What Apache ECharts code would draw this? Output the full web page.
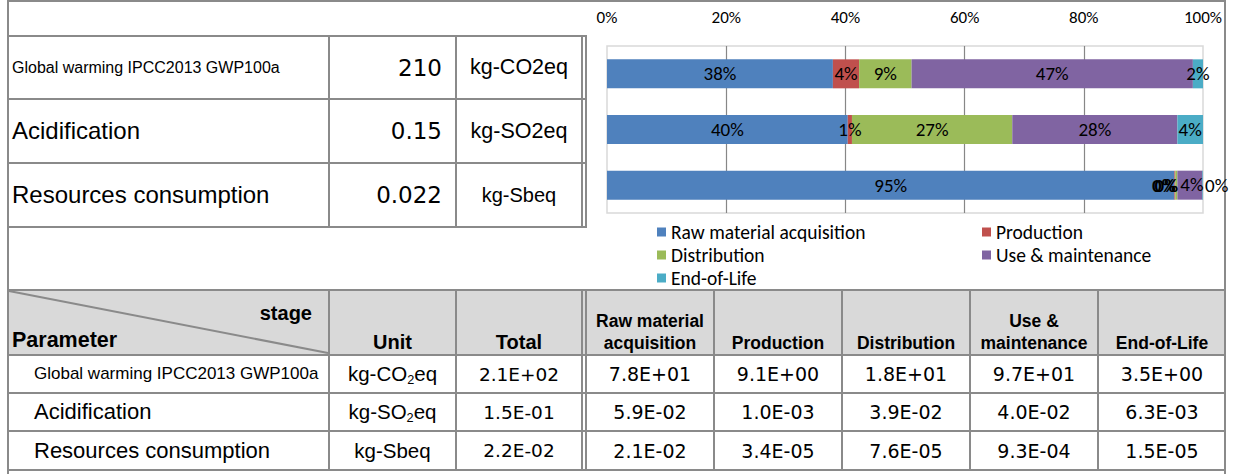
<!DOCTYPE html>
<html>
<head>
<meta charset="utf-8">
<script src="https://cdn.jsdelivr.net/npm/echarts@6/dist/echarts.min.js"></script>
<style>
  html, body { margin: 0; padding: 0; background: #fff; }
  #page { position: relative; width: 1235px; height: 474px; overflow: hidden; font-family: "Liberation Sans", Arial, sans-serif; color: #000; }
  .ln { position: absolute; background: #8a8a8a; }
  .cell { position: absolute; display: flex; align-items: center; white-space: nowrap; }
  .c { justify-content: center; text-align: center; }
  .r { justify-content: flex-end; }
  .num { font-family: "DejaVu Sans", Verdana, sans-serif; }
  .b { font-weight: bold; }
  sub { font-size: 0.62em; vertical-align: -0.25em; line-height: 0; }
  #chart { position: absolute; left: 0; top: 0; width: 1235px; height: 474px; }
</style>
</head>
<body>
<div id="page">
  <div id="hdrbg" style="position:absolute;left:9px;top:291px;width:1215px;height:63px;background:#d9d9d9;"></div>
  <svg style="position:absolute;left:0;top:0;" width="1235" height="474">
    <line x1="9" y1="291" x2="328" y2="353" stroke="#8a8a8a" stroke-width="2"/>
  </svg>
  <div id="lines"></div>
  <div id="cells"></div>
  <div id="chart"></div>
</div>
<script>
// ---- data ----
const parameters = ['Global warming IPCC2013 GWP100a', 'Acidification', 'Resources consumption'];
const unitsPlain = ['kg-CO2eq', 'kg-SO2eq', 'kg-Sbeq'];
const unitsSub = ['kg-CO<sub>2</sub>eq', 'kg-SO<sub>2</sub>eq', 'kg-Sbeq'];
const totalsShort = ['210', '0.15', '0.022'];
const totals = [2.1e2, 1.5e-1, 2.2e-2];
const stages = ['Raw material acquisition', 'Production', 'Distribution', 'Use & maintenance', 'End-of-Life'];
const stageHeaders = ['Raw material<br>acquisition', 'Production', 'Distribution', 'Use &amp;<br>maintenance', 'End-of-Life'];
const rawMaterial = [7.8e1, 5.9e-2, 2.1e-2];
const production = [9.1e0, 1.0e-3, 3.4e-5];
const distribution = [1.8e1, 3.9e-2, 7.6e-5];
const useMaintenance = [9.7e1, 4.0e-2, 9.3e-4];
const endOfLife = [3.5e0, 6.3e-3, 1.5e-5];
// shares in %
const rawPct = [37.9, 40.4, 95.2];
const prodPct = [4.4, 0.7, 0.15];
const distPct = [8.8, 26.9, 0.35];
const usePct = [47.2, 27.7, 4.2];
const eolPct = [1.7, 4.3, 0.1];
const axisTicks = [0, 20, 40, 60, 80, 100];

// ---- table ----
function fmt(v) {
  const s = v.toExponential(1).split('e');
  const sign = s[1][0] === '-' ? '-' : '+';
  let e = s[1].replace('+', '').replace('-', '');
  if (e.length < 2) e = '0' + e;
  return s[0] + 'E' + sign + e;
}
const linesEl = document.getElementById('lines');
function hl(x1, x2, y, t) { const d = document.createElement('div'); d.className = 'ln'; d.style.cssText = `left:${x1}px;top:${y}px;width:${x2 - x1}px;height:${t || 2}px;`; linesEl.appendChild(d); }
function vl(x, y1, y2, t) { const d = document.createElement('div'); d.className = 'ln'; d.style.cssText = `left:${x}px;top:${y1}px;width:${t || 2}px;height:${y2 - y1}px;`; linesEl.appendChild(d); }
// outer
hl(7, 1226, 0, 2); vl(7, 0, 474, 2); vl(1224, 0, 474, 2);
// top table
[35, 98, 162, 226].forEach(y => hl(7, 587, y, 2));
vl(328, 35, 228, 2); vl(455, 35, 228, 2); vl(581, 35, 228, 1.5); vl(585, 35, 228, 1.5);
// bottom table
hl(7, 1226, 289, 2);
[354, 392, 430, 469].forEach(y => hl(7, 1226, y, 2));
vl(328, 289, 471, 2); vl(455, 289, 471, 2); vl(581, 289, 471, 1.5); vl(585, 289, 471, 1.5);
[713, 841, 969, 1097].forEach(x => vl(x, 289, 471, 2));

const cellsEl = document.getElementById('cells');
function cell(x, y, w, h, html, cls, style) {
  const d = document.createElement('div');
  d.className = 'cell ' + (cls || '');
  d.style.cssText = `left:${x}px;top:${y}px;width:${w}px;height:${h}px;` + (style || '');
  d.innerHTML = '<span>' + html + '</span>'; cellsEl.appendChild(d);
}
const topRows = [[37, 98], [100, 162], [164, 226]];
const nameSizes = [16, 24, 24];
parameters.forEach((p, i) => {
  const [y1, y2] = topRows[i];
  cell(12, y1, 316, y2 - y1, p, '', `font-size:${nameSizes[i]}px;`);
  cell(330, y1, 112, y2 - y1, totalsShort[i], 'r num', 'font-size:23px;');
  cell(457, y1, 124, y2 - y1, unitsPlain[i], 'c', `font-size:${i === 2 ? 20 : 21.5}px;`);
});
// bottom header
cell(12, 296, 300, 34, 'stage', 'r b', 'font-size:20px;');
cell(12, 324, 300, 32, 'Parameter', 'b', 'font-size:21.5px;');
cell(330, 326, 125, 32, 'Unit', 'c b', 'font-size:20px;');
cell(457, 326, 124, 32, 'Total', 'c b', 'font-size:20px;');
const colX = [587, 715, 843, 971, 1099];
stageHeaders.forEach((h, j) => {
  cell(colX[j], 300, 126, 54, h, 'c b', 'font-size:17.5px;line-height:22px;align-items:flex-end;');
});
const botRows = [[356, 392], [394, 430], [432, 469]];
const stageVals = [rawMaterial, production, distribution, useMaintenance, endOfLife];
parameters.forEach((p, i) => {
  const [y1, y2] = botRows[i];
  cell(34, y1, 294, y2 - y1, p, '', `font-size:${i === 0 ? 17 : 22}px;`);
  cell(330, y1, 125, y2 - y1, unitsSub[i], 'c', 'font-size:20.5px;');
  cell(457, y1, 124, y2 - y1, fmt(totals[i]), 'c num', 'font-size:18.5px;');
  stageVals.forEach((arr, j) => cell(colX[j], y1, 126, y2 - y1, fmt(arr[i]), 'c num', 'font-size:19px;'));
});

// ---- chart ----
const colors = ['#4F81BD', '#C0504D', '#9BBB59', '#8064A2', '#4BACC6'];
const pctSeries = [rawPct, prodPct, distPct, usePct, eolPct];
const chart = echarts.init(document.getElementById('chart'), null, { renderer: 'svg' });
const font = 'Carlito, Lato, "Open Sans", sans-serif';
const legendText = { fontSize: 19.5, color: '#000', fontFamily: font, lineHeight: 18 };
chart.setOption({
  animation: false,
  backgroundColor: 'transparent',
  color: colors,
  textStyle: { fontFamily: font },
  grid: { left: 607, top: 46, width: 596, height: 167, show: true, borderColor: '#d9d9d9', borderWidth: 1.5, backgroundColor: 'transparent' },
  xAxis: {
    type: 'value', position: 'top', min: axisTicks[0], max: axisTicks[axisTicks.length - 1], interval: axisTicks[1] - axisTicks[0],
    axisLine: { show: false }, axisTick: { show: false },
    axisLabel: { formatter: '{value}%', fontSize: 17, color: '#000', margin: 20, fontFamily: font },
    splitLine: { show: true, showMinLine: false, showMaxLine: false, lineStyle: { color: '#878787', width: 1.2 } }
  },
  yAxis: { type: 'category', data: parameters, inverse: true, axisLine: { show: false }, axisTick: { show: false }, axisLabel: { show: false }, splitLine: { show: false } },
  legend: [
    { data: [stages[0], stages[2], stages[4]], left: 652, top: 217, orient: 'vertical', itemWidth: 9, itemHeight: 9, itemGap: 3, icon: 'rect', textStyle: legendText },
    { data: [stages[1], stages[3]], left: 977, top: 217, orient: 'vertical', itemWidth: 9, itemHeight: 9, itemGap: 3, icon: 'rect', textStyle: legendText }
  ],
  series: stages.map((s, j) => ({
    name: s, type: 'bar', stack: 'total', barWidth: 29,
    data: pctSeries[j].map((v, i) => {
      if (i === 2 && j === 4) return { value: v, label: { position: 'right', distance: 2 } };
      if (i === 2 && (j === 1 || j === 2)) return { value: v, label: { offset: [j === 1 ? -11 : -10, 0], fontWeight: 'bold' } };
      if (i === 2 && j === 3) return { value: v, label: { offset: [2, -1] } };
      return v;
    }),
    label: { show: true, position: 'inside', fontSize: 19, color: '#000', fontFamily: font, formatter: p => Math.round(p.value) + '%' },
    itemStyle: { color: colors[j] }
  }))
});
</script>
</body>
</html>
